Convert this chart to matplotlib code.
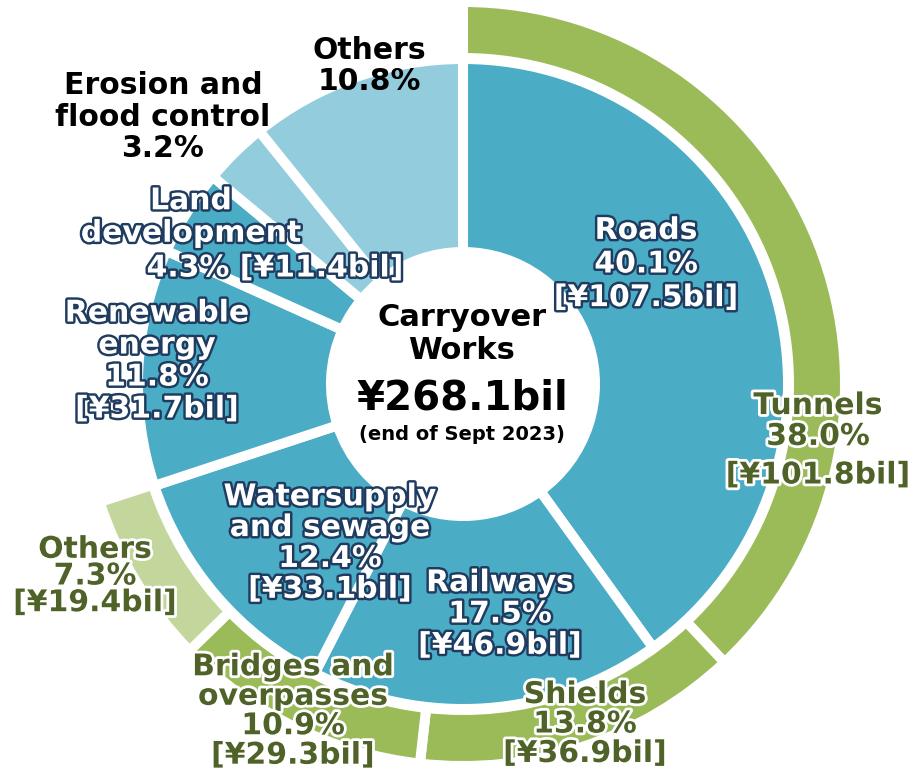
import matplotlib
matplotlib.use("Agg")
from matplotlib import pyplot as plt
import matplotlib.patheffects as pe

# inner ring: work type
inner_labels = ["Roads", "Railways", "Watersupply and sewage", "Renewable energy",
                "Land development", "Erosion and flood control", "Others"]
inner_pct = [40.1, 17.5, 12.4, 11.8, 4.3, 3.2, 10.8]
inner_bil = [107.5, 46.9, 33.1, 31.7, 11.4, None, None]

# outer ring: tunnel related breakdown
outer_labels = ["Tunnels", "Shields", "Bridges and overpasses", "Others"]
outer_pct = [38.0, 13.8, 10.9, 7.3]
outer_bil = [101.8, 36.9, 29.3, 19.4]

total_bil = 268.1

BLUE = "#4bacc6"
LBLUE = "#93cddd"
GREEN = "#9bbb59"
LGREEN = "#c3d69b"
NAVY = "#1f3b5f"
OLIVE = "#4f6228"

W, H = 912, 779
fig = plt.figure(figsize=(W / 100, H / 100), dpi=100)
ax = fig.add_axes([0, 0, 1, 1])

cx, cy = 463, H - 384
lw = 7.2

inner_colors = [BLUE, BLUE, BLUE, BLUE, BLUE, LBLUE, LBLUE]
ax.pie(inner_pct, radius=325, center=(cx, cy), startangle=90, counterclock=False,
       colors=inner_colors,
       wedgeprops=dict(width=193, edgecolor="white", linewidth=lw))

rest = 100 - sum(outer_pct)
outer_w, _ = ax.pie(outer_pct + [rest], radius=382, center=(cx, cy), startangle=90,
                    counterclock=False, colors=[GREEN, GREEN, GREEN, LGREEN, "none"],
                    wedgeprops=dict(width=56, edgecolor="white", linewidth=lw))
outer_w[-1].set_edgecolor("none")

ax.set_xlim(0, W)
ax.set_ylim(0, H)
ax.set_aspect("equal")
ax.axis("off")

inner_fx = [pe.withStroke(linewidth=3.5, foreground=NAVY)]
outer_fx = [pe.withStroke(linewidth=4, foreground="white")]
FS = 21.5


def txt(x, y, s, size=FS, color="white", fx=None, ls=1.1):
    ax.text(x, H - y, s, ha="center", va="center", fontsize=size, color=color,
            fontweight="bold", linespacing=ls, path_effects=fx)


def ib(i):
    return "%.1f%%\n[¥%.1fbil]" % (inner_pct[i], inner_bil[i])


def ob(i):
    return "%.1f%%\n[¥%.1fbil]" % (outer_pct[i], outer_bil[i])


# inner labels
txt(646, 264, "Roads\n" + ib(0), fx=inner_fx, ls=1.2)
txt(500, 614, "Railways\n" + ib(1), fx=inner_fx, ls=1.1)
txt(330, 543, "Watersupply\nand sewage\n" + ib(2), fx=inner_fx, ls=1.08)
txt(157, 361, "Renewable\nenergy\n" + ib(3), fx=inner_fx, ls=1.13)
txt(191, 217, "Land\ndevelopment", fx=inner_fx, ls=1.15)
txt(275, 268, "%.1f%% [¥%.1fbil]" % (inner_pct[4], inner_bil[4]), fx=inner_fx)
txt(163, 117, "Erosion and\nflood control\n%.1f%%" % inner_pct[5], color="black", ls=1.12)
txt(369, 66, "Others\n%.1f%%" % inner_pct[6], color="black", ls=1.08)

# outer labels
txt(818, 421, "%s\n%.1f%%" % (outer_labels[0], outer_pct[0]), color=OLIVE, fx=outer_fx, ls=1.08)
txt(818, 475, "[¥%.1fbil]" % outer_bil[0], color=OLIVE, fx=outer_fx)
txt(585, 724, "Shields\n" + ob(1), color=OLIVE, fx=outer_fx, ls=1.02)
txt(293, 711, "Bridges and\noverpasses\n" + ob(2), color=OLIVE, fx=outer_fx, ls=1.02)
txt(95, 576, "Others\n" + ob(3), color=OLIVE, fx=outer_fx, ls=0.9)

# centre
txt(462, 334, "Carryover\nWorks", size=22, color="black", ls=1.2)
txt(462, 398, "¥%.1fbil" % total_bil, size=29, color="black")
txt(462, 435, "(end of Sept 2023)", size=14, color="black")

fig.savefig("out.png", dpi=100)
